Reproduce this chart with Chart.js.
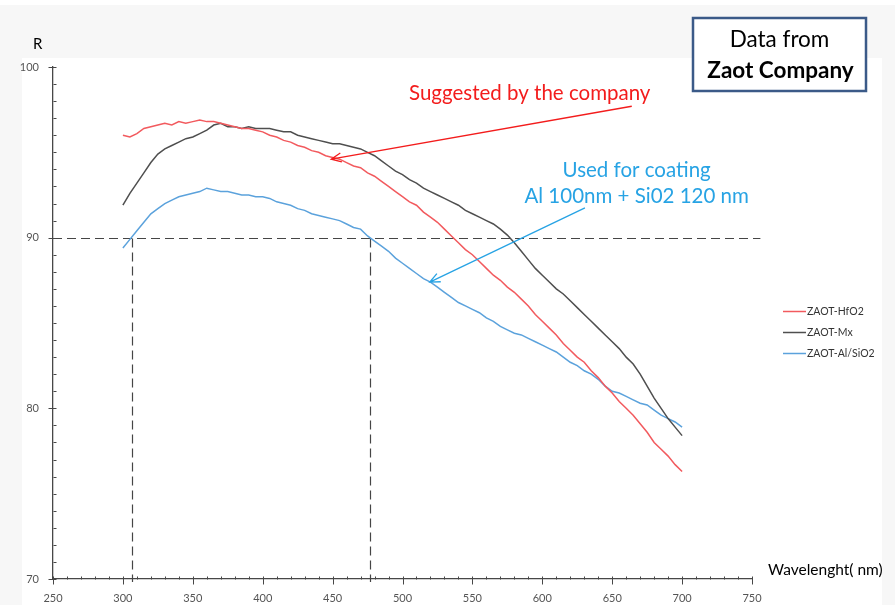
<!DOCTYPE html>
<html>
<head>
<meta charset="utf-8">
<script src="https://cdn.jsdelivr.net/npm/chart.js@4/dist/chart.umd.min.js"></script>
<style>
  html, body { margin: 0; padding: 0; background: #fff; }
  #wrap { position: relative; width: 895px; height: 605px; }
</style>
</head>
<body>
<div id="wrap"><canvas id="reflChart" width="895" height="605"></canvas></div>
<script>
// Reflectance (%) vs wavelength (nm), three ZAOT coatings
const wavelengths = [
  300, 305, 310, 315, 320, 325, 330, 335, 340, 345,
  350, 355, 360, 365, 370, 375, 380, 385, 390, 395,
  400, 405, 410, 415, 420, 425, 430, 435, 440, 445,
  450, 455, 460, 465, 470, 475, 480, 485, 490, 495,
  500, 505, 510, 515, 520, 525, 530, 535, 540, 545,
  550, 555, 560, 565, 570, 575, 580, 585, 590, 595,
  600, 605, 610, 615, 620, 625, 630, 635, 640, 645,
  650, 655, 660, 665, 670, 675, 680, 685, 690, 695,
  700
];

const hfo2 = [
  96.0, 95.9, 96.1, 96.4, 96.5, 96.6, 96.7, 96.6, 96.8, 96.7,
  96.8, 96.9, 96.8, 96.8, 96.7, 96.6, 96.5, 96.4, 96.4, 96.3,
  96.2, 96.0, 95.9, 95.7, 95.6, 95.4, 95.3, 95.1, 95.0, 94.8,
  94.7, 94.6, 94.4, 94.2, 94.1, 93.8, 93.6, 93.3, 93.0, 92.7,
  92.4, 92.1, 91.9, 91.5, 91.2, 90.9, 90.5, 90.1, 89.7, 89.3,
  89.0, 88.6, 88.2, 87.8, 87.5, 87.1, 86.8, 86.4, 86.0, 85.5,
  85.1, 84.7, 84.3, 83.8, 83.4, 83.0, 82.7, 82.2, 81.8, 81.3,
  80.9, 80.4, 80.0, 79.6, 79.1, 78.6, 78.0, 77.6, 77.2, 76.7,
  76.3
];

const mx = [
  91.9, 92.6, 93.2, 93.8, 94.4, 94.9, 95.2, 95.4, 95.6, 95.8,
  95.9, 96.1, 96.3, 96.6, 96.7, 96.5, 96.5, 96.4, 96.5, 96.4,
  96.4, 96.4, 96.3, 96.2, 96.2, 96.0, 95.9, 95.8, 95.7, 95.6,
  95.5, 95.5, 95.4, 95.3, 95.2, 95.0, 94.8, 94.5, 94.2, 93.9,
  93.7, 93.4, 93.2, 92.9, 92.7, 92.5, 92.3, 92.1, 91.9, 91.6,
  91.4, 91.2, 91.0, 90.8, 90.5, 90.15, 89.7, 89.2, 88.7, 88.2,
  87.8, 87.4, 87.0, 86.7, 86.3, 85.9, 85.5, 85.1, 84.7, 84.3,
  83.9, 83.5, 83.0, 82.6, 82.0, 81.3, 80.6, 80.0, 79.4, 78.9,
  78.4
];

const alSio2 = [
  89.4, 89.9, 90.4, 90.9, 91.4, 91.7, 92.0, 92.2, 92.4, 92.5,
  92.6, 92.7, 92.9, 92.8, 92.7, 92.7, 92.6, 92.5, 92.5, 92.4,
  92.4, 92.3, 92.1, 92.0, 91.9, 91.7, 91.6, 91.4, 91.3, 91.2,
  91.1, 91.0, 90.8, 90.6, 90.5, 90.1, 89.8, 89.5, 89.2, 88.8,
  88.5, 88.2, 87.9, 87.6, 87.4, 87.1, 86.8, 86.5, 86.2, 86.0,
  85.8, 85.6, 85.3, 85.1, 84.8, 84.6, 84.4, 84.3, 84.1, 83.9,
  83.7, 83.5, 83.3, 83.0, 82.7, 82.5, 82.2, 82.0, 81.7, 81.3,
  81.0, 80.9, 80.7, 80.5, 80.3, 80.2, 79.9, 79.6, 79.4, 79.2,
  78.9
];

const seriesNames = ['ZAOT-HfO2', 'ZAOT-Mx', 'ZAOT-Al/SiO2'];
const xTicks = [250, 300, 350, 400, 450, 500, 550, 600, 650, 700, 750];
const yTicks = [70, 80, 90, 100];

// 90 % guide and where the Al/SiO2 curve meets it
const guideLevel = 90;
const guideCrossings = [306.5, 476.7];

const FONT = 'Lato, "Open Sans", sans-serif';
const RED_NOTE = '#f31c1c';
const BLUE_NOTE = '#27a3e4';

function toPoints(values) {
  return values.map((r, i) => ({ x: wavelengths[i], y: r }));
}

// light grey page with the white plotting sheet on top
const pageBackground = {
  id: 'pageBackground',
  beforeDraw(chart) {
    const { ctx, width, height } = chart;
    ctx.save();
    ctx.fillStyle = '#ffffff';
    ctx.fillRect(0, 0, width, height);
    ctx.fillStyle = '#f7f7f7';
    ctx.fillRect(0, 5, width, height - 5);
    ctx.fillStyle = '#ffffff';
    ctx.fillRect(22, 58, 860, height - 58);
    ctx.restore();
  }
};

// dashed 90 % guide lines, under the curves
const guideLines = {
  id: 'guideLines',
  beforeDatasetsDraw(chart) {
    const { ctx, scales: { x, y } } = chart;
    ctx.save();
    ctx.strokeStyle = '#454545';
    ctx.lineWidth = 1.2;
    ctx.setLineDash([9, 5]);
    const gy = Math.round(y.getPixelForValue(guideLevel)) + 0.5;
    ctx.beginPath();
    ctx.moveTo(x.getPixelForValue(250), gy);
    ctx.lineTo(x.getPixelForValue(756), gy);
    ctx.stroke();
    guideCrossings.forEach(w => {
      const gx = Math.round(x.getPixelForValue(w)) + 0.5;
      ctx.beginPath();
      ctx.moveTo(gx, gy);
      ctx.lineTo(gx, y.getPixelForValue(70) + 3);
      ctx.stroke();
    });
    ctx.restore();
  }
};

// major ticks cross the axis, minor ticks sit inside
const axisTicks = {
  id: 'axisTicks',
  afterDraw(chart) {
    const { ctx, scales: { x, y } } = chart;
    const ax = Math.round(x.getPixelForValue(250)) + 0.5;
    const ay = Math.round(y.getPixelForValue(70)) + 0.5;
    ctx.save();
    ctx.strokeStyle = '#474747';
    ctx.lineWidth = 1;
    for (let v = 70; v <= 100; v++) {
      const py = Math.round(y.getPixelForValue(v)) + 0.5;
      const major = v % 10 === 0;
      ctx.beginPath();
      ctx.moveTo(major ? ax - 5 : ax, py);
      ctx.lineTo(ax + 3, py);
      ctx.stroke();
    }
    for (let v = 250; v <= 750; v += 10) {
      const px = Math.round(x.getPixelForValue(v)) + 0.5;
      const major = v % 50 === 0;
      ctx.beginPath();
      ctx.moveTo(px, ay - 3);
      ctx.lineTo(px, major ? ay + 5 : ay);
      ctx.stroke();
    }
    ctx.restore();
  }
};

function arrow(ctx, x1, y1, x2, y2, color) {
  const a = Math.atan2(y2 - y1, x2 - x1);
  const h = 11, spread = 0.42;
  ctx.strokeStyle = color;
  ctx.lineWidth = 1.3;
  ctx.beginPath();
  ctx.moveTo(x1, y1);
  ctx.lineTo(x2, y2);
  ctx.moveTo(x2 - h * Math.cos(a - spread), y2 - h * Math.sin(a - spread));
  ctx.lineTo(x2, y2);
  ctx.lineTo(x2 - h * Math.cos(a + spread), y2 - h * Math.sin(a + spread));
  ctx.stroke();
}

// notes, arrows, source box, axis titles and legend
const notes = {
  id: 'notes',
  afterDraw(chart) {
    const { ctx, scales: { x, y } } = chart;
    const px = v => x.getPixelForValue(v);
    const py = v => y.getPixelForValue(v);
    ctx.save();

    ctx.textAlign = 'center';
    ctx.textBaseline = 'alphabetic';
    ctx.fillStyle = RED_NOTE;
    ctx.font = '20.5px ' + FONT;
    ctx.fillText('Suggested by the company', px(591), py(98.05));
    arrow(ctx, px(664), py(97.7), px(449), py(94.6), RED_NOTE);

    ctx.fillStyle = BLUE_NOTE;
    ctx.fillText('Used for coating', px(667.5), py(93.55));
    ctx.fillText('Al 100nm + Si02 120 nm', px(667.5), py(92.05));
    arrow(ctx, px(630.5), py(91.75), px(519.5), py(87.4), BLUE_NOTE);

    // source box
    ctx.fillStyle = '#ffffff';
    ctx.fillRect(693, 18, 173, 73);
    ctx.strokeStyle = '#3b5a88';
    ctx.lineWidth = 2.5;
    ctx.strokeRect(693, 18, 173, 73);
    ctx.fillStyle = '#000000';
    ctx.font = '22.5px ' + FONT;
    ctx.fillText('Data from', 779.5, 47);
    ctx.font = 'bold 22.5px ' + FONT;
    ctx.fillText('Zaot Company', 780.5, 78);

    ctx.textAlign = 'left';
    ctx.font = '15px ' + FONT;
    ctx.fillText('R', 33, 49);
    ctx.font = '15.5px ' + FONT;
    ctx.fillText('Wavelenght( nm)', 768, 575);

    // legend
    ctx.font = '10.5px ' + FONT;
    ctx.textBaseline = 'middle';
    chart.data.datasets.forEach((ds, i) => {
      const ly = 311.5 + i * 21;
      ctx.strokeStyle = ds.borderColor;
      ctx.lineWidth = 1.5;
      ctx.beginPath();
      ctx.moveTo(783, ly);
      ctx.lineTo(806, ly);
      ctx.stroke();
      ctx.fillStyle = '#333333';
      ctx.fillText(ds.label, 807, ly);
    });
    ctx.restore();
  }
};

new Chart(document.getElementById('reflChart'), {
  type: 'line',
  data: {
    datasets: [
      { label: seriesNames[0], data: toPoints(hfo2), borderColor: '#f25a5e' },
      { label: seriesNames[1], data: toPoints(mx), borderColor: '#4f4f4f' },
      { label: seriesNames[2], data: toPoints(alSio2), borderColor: '#5ba2dc' }
    ]
  },
  options: {
    responsive: false,
    animation: false,
    devicePixelRatio: 1,
    layout: { padding: { left: 0, top: 67, right: 143, bottom: 0 } },
    elements: {
      line: { borderWidth: 1.5, tension: 0 },
      point: { radius: 0 }
    },
    scales: {
      x: {
        type: 'linear',
        min: 250,
        max: 750,
        afterFit(scale) { scale.height = 26; },
        afterBuildTicks(scale) { scale.ticks = xTicks.map(v => ({ value: v })); },
        grid: { display: false },
        border: { display: true, color: '#474747', width: 1.3 },
        ticks: { padding: 5, color: '#555555', font: { family: FONT, size: 11 } }
      },
      y: {
        min: 70,
        max: 100,
        afterFit(scale) { scale.width = 53; },
        afterBuildTicks(scale) { scale.ticks = yTicks.map(v => ({ value: v })); },
        grid: { display: false },
        border: { display: true, color: '#474747', width: 1.3 },
        ticks: { padding: 6, color: '#555555', font: { family: FONT, size: 11 } }
      }
    },
    plugins: {
      legend: { display: false },
      tooltip: { enabled: false }
    }
  },
  plugins: [pageBackground, guideLines, axisTicks, notes]
});
</script>
</body>
</html>
